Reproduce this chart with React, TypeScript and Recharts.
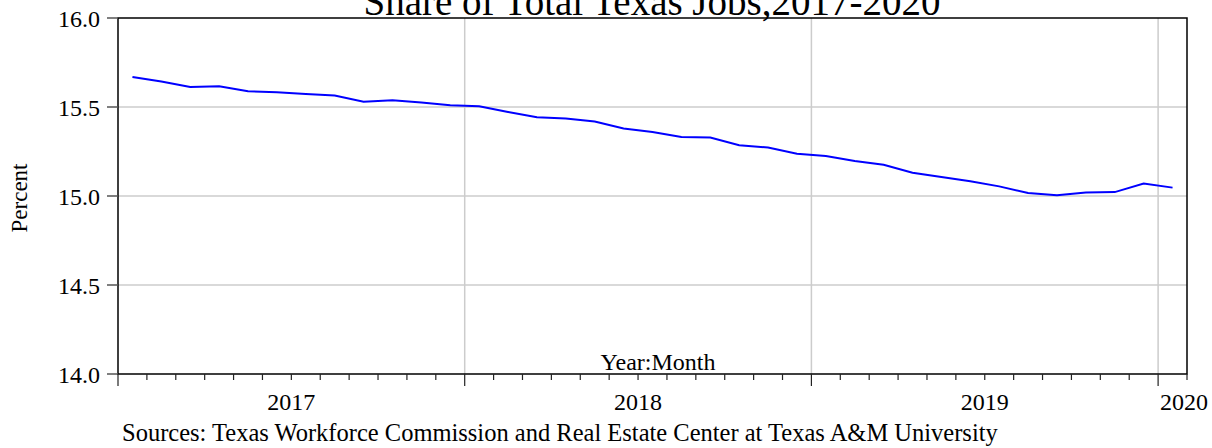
import {
  LineChart,
  Line,
  XAxis,
  YAxis,
  CartesianGrid,
  ReferenceArea,
} from "recharts";

const MONTHS = [
  "2017M01", "2017M02", "2017M03", "2017M04", "2017M05", "2017M06",
  "2017M07", "2017M08", "2017M09", "2017M10", "2017M11", "2017M12",
  "2018M01", "2018M02", "2018M03", "2018M04", "2018M05", "2018M06",
  "2018M07", "2018M08", "2018M09", "2018M10", "2018M11", "2018M12",
  "2019M01", "2019M02", "2019M03", "2019M04", "2019M05", "2019M06",
  "2019M07", "2019M08", "2019M09", "2019M10", "2019M11", "2019M12",
  "2020M01",
];

const SHARE = [
  15.669, 15.643, 15.612, 15.616, 15.588, 15.583, 15.573, 15.564, 15.53, 15.538, 15.525, 15.51,
  15.504, 15.472, 15.442, 15.435, 15.418, 15.379, 15.36, 15.332, 15.328, 15.285, 15.272, 15.238,
  15.225, 15.197, 15.176, 15.131, 15.107, 15.083, 15.054, 15.017, 15.004, 15.019, 15.022, 15.07,
  15.047,
];

const YEARS = ["2017", "2018", "2019", "2020"];
const Y_TICKS = [14.0, 14.5, 15.0, 15.5, 16.0];

const FONT = "'Liberation Serif', 'Times New Roman', serif";

// each month sits in the middle of its slot, like the EViews graph
const data = MONTHS.map((m, i) => ({ month: m, pos: i + 0.5, share: SHARE[i] }));

const monthEdges = Array.from({ length: MONTHS.length + 1 }, (_, i) => i);

// year boundaries (major ticks / grid) and where each year label goes
const yearStarts = YEARS.map((y) => MONTHS.findIndex((m) => m.startsWith(y)));
const labelAt = new Map<number, { text: string; anchor: string }>();
YEARS.forEach((y, k) => {
  const count = MONTHS.filter((m) => m.startsWith(y)).length;
  if (count >= 12) labelAt.set(yearStarts[k] + count / 2, { text: y, anchor: "middle" });
  else labelAt.set(yearStarts[k], { text: y, anchor: "start" });
});
const yearLines = yearStarts.filter((s) => s > 0);

function MonthTick({ x, y, payload }: any) {
  const v = payload.value as number;
  const major = yearStarts.includes(v);
  const label = labelAt.get(v);
  return (
    <g>
      <line x1={x} x2={x} y1={y} y2={y + (major ? 12 : 6)} stroke="#222" strokeWidth={1.2} />
      {label && (
        <text
          x={label.anchor === "start" ? x + 2 : x}
          y={y + 36}
          textAnchor={label.anchor as any}
          fontFamily={FONT}
          fontSize={24}
          fill="#000"
        >
          {label.text}
        </text>
      )}
    </g>
  );
}

export default function App() {
  return (
    <div style={{ position: "absolute", left: 0, top: 0, width: 1212, height: 448, background: "#fff" }}>
      <LineChart
        width={1212}
        height={448}
        data={data}
        margin={{ top: 18, right: 25, left: 0, bottom: 0 }}
      >
        <CartesianGrid
          stroke="#cccccc"
          strokeWidth={1.5}
          horizontalValues={[14.5, 15.0, 15.5]}
          verticalValues={yearLines}
        />
        <XAxis
          dataKey="pos"
          type="number"
          domain={[0, MONTHS.length]}
          ticks={monthEdges}
          interval={0}
          height={74}
          axisLine={false}
          tickLine={false}
          tickSize={0}
          tickMargin={0}
          tick={<MonthTick />}
        />
        <YAxis
          type="number"
          domain={[14, 16]}
          ticks={Y_TICKS}
          width={118}
          axisLine={false}
          tickLine={{ stroke: "#555", strokeWidth: 1.5 }}
          tickSize={11}
          tickMargin={7}
          tickFormatter={(v: number) => v.toFixed(1)}
          tick={{ fill: "#000", fontSize: 24, fontFamily: FONT }}
        />
        <ReferenceArea
          x1={0}
          x2={MONTHS.length}
          y1={14}
          y2={16}
          fill="none"
          stroke="#000"
          strokeWidth={1.5}
          strokeOpacity={1}
        />
        <Line
          type="linear"
          dataKey="share"
          stroke="#0000ff"
          strokeWidth={2}
          dot={false}
          isAnimationActive={false}
        />
      </LineChart>
      <svg
        width={1212}
        height={448}
        style={{ position: "absolute", left: 0, top: 0, pointerEvents: "none" }}
      >
        <text x={652} y={15} textAnchor="middle" fontFamily={FONT} fontSize={39} fill="#000">
          Share of Total Texas Jobs,2017-2020
        </text>
        <text
          transform="translate(27,198) rotate(-90)"
          textAnchor="middle"
          fontFamily={FONT}
          fontSize={23}
          fill="#000"
        >
          Percent
        </text>
        <text x={658} y={370} textAnchor="middle" fontFamily={FONT} fontSize={24} fill="#000">
          Year:Month
        </text>
        <text x={122} y={441} fontFamily={FONT} fontSize={24.5} fill="#000">
          Sources: Texas Workforce Commission and Real Estate Center at Texas A&amp;M University
        </text>
      </svg>
    </div>
  );
}
